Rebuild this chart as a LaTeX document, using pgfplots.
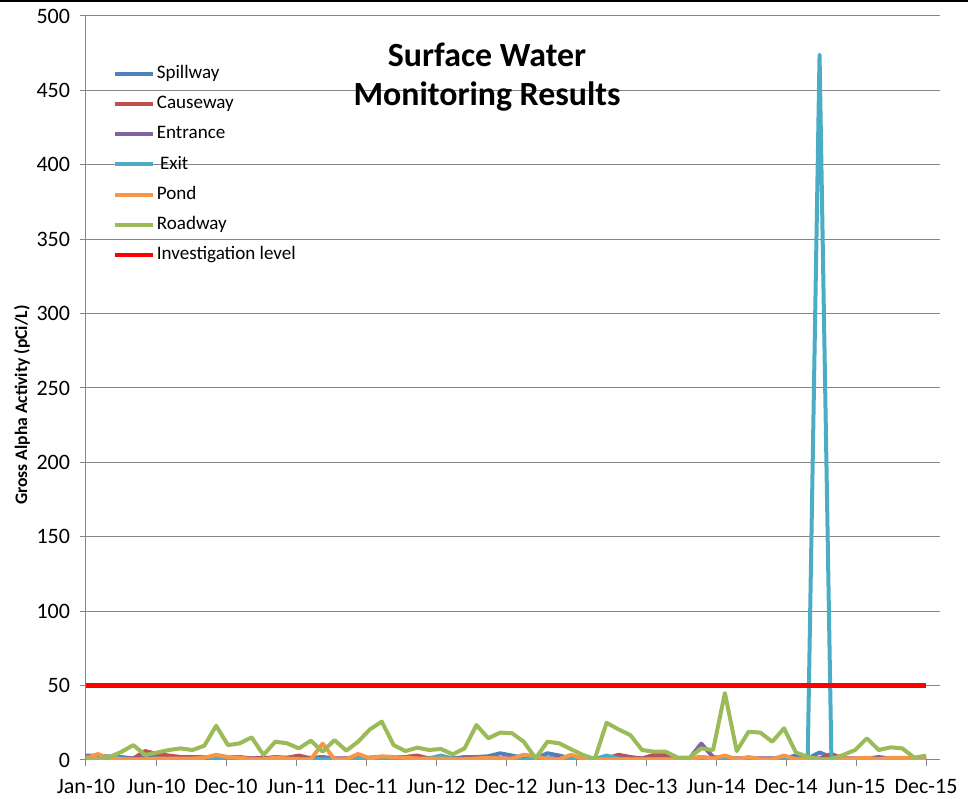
\documentclass[border=0pt]{standalone}
\usepackage{pgfplots}
\usepackage{pgfplotstable}
\usepackage{fontspec}
\setmainfont{Carlito}
\pgfplotsset{compat=1.18}
\definecolor{cSp}{HTML}{4F81BD}
\definecolor{cCa}{HTML}{C0504D}
\definecolor{cEn}{HTML}{8064A2}
\definecolor{cEx}{HTML}{4BACC6}
\definecolor{cPo}{HTML}{F79646}
\definecolor{cRo}{HTML}{9BBB59}
\definecolor{axgray}{HTML}{868686}

\pgfplotstableread{
m sp ca en ex po ro
0 3 2 1 2 1 1
1 3 3 1 1 4 0.5
2 2 2 1 2.5 1 2
3 2 1 1 1 0.5 5.5
4 1 1 1 0.5 0.5 10
5 2 6 1 0.5 0.5 3.4
6 2 4 1 0.5 1 5
7 2 3 1 0.5 1 6.7
8 1 2 1 0.5 1 7.8
9 1 2 1 0.5 1 6.7
10 1 2 1 2 1.5 9.6
11 2 2 2 1 3.5 23
12 2 2 1 0.5 2 10
13 1 2 1 0.5 1.5 11.2
14 1 1 1 0.5 0.5 15.2
15 1 1.5 1 0.5 0.5 3.4
16 2 1.5 1 1 1.5 12.3
17 1.5 1.5 1 0.5 1 11.2
18 1 3 1 0.5 0.5 7.8
19 1.5 1 1 0.5 0.5 13
20 2 1 1 0.5 11 5.6
21 1 1 1 0.5 0.5 13.4
22 1 1 1 0.5 0.5 6.3
23 1 1.5 1 1 4 12.3
24 1.5 1.5 1 1 1 20.6
25 2 2 1 0.5 2.5 25.8
26 1.5 2 1 0.5 2 10
27 1 2 1 0.5 1.5 6
28 1 3 1 0.5 1 8.3
29 1.5 1 1 1 1 6.7
30 1 1 1 3 1 7.4
31 1 1 1 1 0.5 3.8
32 2 1 1 0.5 0.5 7.8
33 2 1.5 1 0.5 1 23.5
34 2.5 1.5 1 0.5 1.5 14.6
35 4.5 1 1 0.5 1 18.4
36 3 1 1 0.5 1 18
37 1.5 1 1 0.5 3.5 12.3
38 1 1 1 0.5 2.5 1.1
39 4.5 1 1 1 0.5 12.3
40 3 1 1 0.5 0.5 11.2
41 1 1 1 0.5 3.5 7.2
42 1 1 1 0.5 1 3.4
43 1 1 1 0.5 0.5 0.7
44 1 1 1 3 0.5 25
45 1 3.5 1 1 0.5 20.6
46 1 2 1 0.5 0.5 16.8
47 1 1 1 0.5 0.5 6.7
48 1 3.5 1 0.5 0.5 5.6
49 1 3.5 1 0.5 0.5 5.6
50 1 1 1 0.5 0.5 1.6
51 1 1 1 0.5 0.5 1.6
52 1 2 11 0.5 2 7.8
53 1 1 2 0.5 1 6.7
54 1 1 1 1.5 3 45
55 1 1 1 0.5 0.5 6
56 1 1 1 0.5 2 19
57 1 1 1 0.5 0.5 18.4
58 1 1 1 0.5 0.5 12.3
59 1 1 1 1 3 21.3
60 3 2 2 1 0.5 5
61 1 1 1 1.5 0.5 2.2
62 5 1 1 474 0.5 0.5
63 2 4 1 1.5 0.5 0.5
64 1 1 1 0.5 0.5 3.4
65 1 1 1 0.5 1 6.7
66 1 1 1 0.5 1.5 14.6
67 2 1 1 0.5 0.5 6.7
68 1 1 1 0.5 1.5 8.5
69 1 1 1 0.5 1.5 7.8
70 1 1 1 0.5 1 1.6
71 1 1 1 0.5 1 2.9
}\datatable

\begin{document}
\begin{tikzpicture}
\path[use as bounding box] (0,0) rectangle (726pt,599.25pt);
\draw[line width=1.2pt] (0,598.65pt) -- (726pt,598.65pt);
\begin{axis}[
  at={(64.5pt,29.25pt)}, anchor=south west,
  scale only axis, width=640.5pt, height=558pt,
  xmin=0, xmax=72.18, ymin=0, ymax=500,
  axis x line*=bottom, axis y line*=left,
  axis line style={draw=axgray, line width=0.75pt},
  ymajorgrids, grid style={draw=axgray, line width=0.75pt},
  ytick={0,50,...,500},
  xtick={0,5.91667,11.8333,17.75,23.6667,29.5833,35.5,41.4167,47.3333,53.25,59.1667,65.0833,71},
  xticklabels={Jan-10,Jun-10,Dec-10,Jun-11,Dec-11,Jun-12,Dec-12,Jun-13,Dec-13,Jun-14,Dec-14,Jun-15,Dec-15},
  tick align=outside, major tick length=4.5pt,
  tick style={draw=axgray, line width=0.75pt},
  ticklabel style={font=\fontsize{16.5}{18}\selectfont},
  xticklabel style={yshift=-6.5pt},
  yticklabel style={xshift=-4pt},
  /pgf/number format/assume math mode=true,
  ylabel={Gross Alpha Activity (pCi/L)},
  ylabel style={font=\fontsize{13.2}{15}\selectfont\bfseries, at={(axis description cs:-0.075,0.477)}, anchor=center},
  legend style={at={(axis description cs:0.0305,0.9355)}, anchor=north west, draw=none, fill=none,
    font=\fontsize{14.3}{16}\selectfont, row sep=8.7pt, column sep=1.5pt, inner sep=0pt,
    nodes={inner sep=0pt, text height=10.5pt, text depth=3.5pt}},
  legend cell align=left,
  legend image code/.code={\draw[#1] (0pt,0pt) -- (28.5pt,0pt);},
  every axis plot/.append style={line width=3pt, line join=round},
]
\addplot[cSp] table[x=m,y=sp]{\datatable}; \addlegendentry{Spillway}
\addplot[cCa] table[x=m,y=ca]{\datatable}; \addlegendentry{Causeway}
\addplot[cEn] table[x=m,y=en]{\datatable}; \addlegendentry{Entrance}
\addplot[cEx] table[x=m,y=ex]{\datatable}; \addlegendentry{\,Exit}
\addplot[cPo] table[x=m,y=po]{\datatable}; \addlegendentry{Pond}
\addplot[cRo] table[x=m,y=ro]{\datatable}; \addlegendentry{Roadway}
\addplot[red, line width=3.4pt] coordinates {(0,50) (71,50)}; \addlegendentry{Investigation level}
\node[font=\fontsize{25.4}{29.3}\selectfont\bfseries, align=center] at (rel axis cs:0.4696,0.918) {Surface Water\\Monitoring Results};
\end{axis}
\end{tikzpicture}
\end{document}
